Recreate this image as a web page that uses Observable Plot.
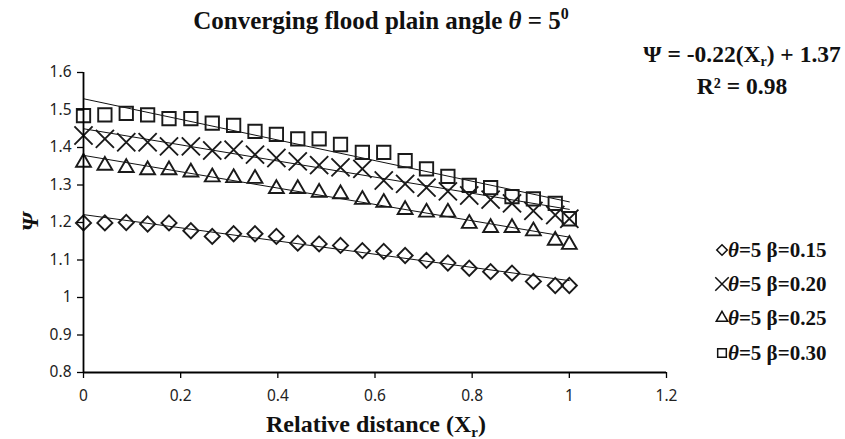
<!DOCTYPE html>
<html><head><meta charset="utf-8">
<script src="https://cdn.jsdelivr.net/npm/d3@7"></script>
<script src="https://cdn.jsdelivr.net/npm/@observablehq/plot@0.6"></script>
<style>body{margin:0;background:#fff}#chart{width:845px;height:439px}</style>
</head><body><div id="chart"></div><script>
// Relative distance (Xr)
const xr = [0, 0.044, 0.088, 0.132, 0.176, 0.221, 0.265, 0.309, 0.353, 0.397, 0.441, 0.485,
            0.529, 0.574, 0.618, 0.662, 0.706, 0.75, 0.794, 0.838, 0.882, 0.926, 0.971, 1.0];
// Psi values per series
const psiB015 = [1.199, 1.199, 1.200, 1.196, 1.199, 1.178, 1.163, 1.170, 1.170, 1.163, 1.145, 1.143,
                 1.139, 1.125, 1.123, 1.112, 1.099, 1.092, 1.078, 1.069, 1.065, 1.043, 1.032, 1.032];
const psiB020 = [1.432, 1.423, 1.414, 1.414, 1.403, 1.403, 1.392, 1.394, 1.381, 1.372, 1.363, 1.353,
                 1.347, 1.343, 1.312, 1.303, 1.293, 1.283, 1.272, 1.261, 1.251, 1.231, 1.220, 1.210];
const psiB025 = [1.360, 1.352, 1.346, 1.340, 1.340, 1.334, 1.321, 1.319, 1.317, 1.290, 1.290, 1.280,
                 1.276, 1.261, 1.253, 1.234, 1.227, 1.227, 1.197, 1.186, 1.186, 1.177, 1.152, 1.141];
const psiB030 = [1.485, 1.487, 1.491, 1.487, 1.477, 1.477, 1.465, 1.459, 1.443, 1.435, 1.423, 1.423,
                 1.408, 1.387, 1.387, 1.365, 1.343, 1.323, 1.299, 1.293, 1.269, 1.263, 1.251, 1.210];
const seriesValues = [psiB015, psiB020, psiB025, psiB030];
const seriesBeta = ["0.15", "0.20", "0.25", "0.30"];
const seriesSymbols = ["diamond2", "times", "triangle2", "square2"];
// Trend lines (value at Xr = 0 and Xr = 1)
const trendX = [0, 1];
const trendStart = [1.221, 1.450, 1.379, 1.530];
const trendEnd = [1.045, 1.235, 1.161, 1.255];
// Axes
const xTicks = [0, 0.2, 0.4, 0.6, 0.8, 1, 1.2];
const xTickLabels = ["0", "0.2", "0.4", "0.6", "0.8", "1", "1.2"];
const yTicks = [0.8, 0.9, 1, 1.1, 1.2, 1.3, 1.4, 1.5, 1.6];
const yTickLabels = ["0.8", "0.9", "1", "1.1", "1.2", "1.3", "1.4", "1.5", "1.6"];

const points = seriesValues.map((vals, s) => vals.map((v, i) => ({x: xr[i], y: v, s})));
const trends = trendStart.map((v0, s) => [
  {x: trendX[0], y: v0, s}, {x: trendX[1], y: trendEnd[s], s}
]).flat();

const symR = {diamond2: 6.8, times: 8.3, triangle2: 7.1, square2: 8.5};

const plot = Plot.plot({
  width: 845, height: 439,
  marginLeft: 83, marginRight: 179, marginTop: 72, marginBottom: 67,
  style: {fontFamily: "'Noto Sans', sans-serif", fontSize: "15.5px", color: "#222", background: "#fff"},
  x: {domain: [0, 1.2], label: null},
  y: {domain: [0.8, 1.6], label: null},
  marks: [
    Plot.line(trends, {x: "x", y: "y", z: "s", stroke: "#111", strokeWidth: 1}),
    ...points.map((pts, s) => Plot.dot(pts, {
      x: "x", y: "y", symbol: seriesSymbols[s], r: symR[seriesSymbols[s]],
      stroke: "#1a1a1a", strokeWidth: 1.9, fill: "none"
    })),
    Plot.axisX({ticks: xTicks, tickFormat: (d) => xTickLabels[xTicks.indexOf(d)], tickSize: 6, tickPadding: 11, label: null, stroke: "#000", strokeWidth: 1.3}),
    Plot.axisY({ticks: yTicks, tickFormat: (d) => yTickLabels[yTicks.findIndex(t => Math.abs(t - d) < 1e-9)], tickSize: 6, tickPadding: 6, label: null, stroke: "#000", strokeWidth: 1.3}),
    Plot.ruleY([0.8], {stroke: "#000", strokeWidth: 1.8}),
    Plot.ruleX([0], {stroke: "#000", strokeWidth: 1.8})
  ]
});
document.getElementById("chart").appendChild(plot);

const svg = d3.select(plot);
const serif = "'Liberation Serif', 'Times New Roman', serif";
// Title
const t = svg.append("text").attr("x", 381).attr("y", 29).attr("text-anchor", "middle")
  .attr("font-family", serif).attr("font-weight", "bold").attr("font-size", 25).attr("fill", "#111");
t.append("tspan").text("Converging flood plain angle ");
t.append("tspan").attr("font-style", "italic").text("θ");
t.append("tspan").text(" = 5");
t.append("tspan").attr("font-size", 16).attr("dy", -10).text("0");
// Equation
const e1 = svg.append("text").attr("x", 742).attr("y", 62).attr("text-anchor", "middle")
  .attr("font-family", serif).attr("font-weight", "bold").attr("font-size", 23.5).attr("fill", "#111");
e1.append("tspan").text("Ψ = -0.22(X");
e1.append("tspan").attr("font-size", 14).attr("dy", 4).text("r");
e1.append("tspan").attr("dy", -4).text(") + 1.37");
svg.append("text").attr("x", 742).attr("y", 94).attr("text-anchor", "middle")
  .attr("font-family", serif).attr("font-weight", "bold").attr("font-size", 23.5).attr("fill", "#111")
  .text("R² = 0.98");
// Y label
svg.append("text").attr("transform", "translate(38,222) rotate(-90)").attr("text-anchor", "middle")
  .attr("font-family", serif).attr("font-weight", "bold").attr("font-style", "italic").attr("font-size", 24).attr("fill", "#111")
  .text("Ψ");
// X label
const xl = svg.append("text").attr("x", 376).attr("y", 432).attr("text-anchor", "middle")
  .attr("font-family", serif).attr("font-weight", "bold").attr("font-size", 24).attr("fill", "#111");
xl.append("tspan").text("Relative distance (X");
xl.append("tspan").attr("font-size", 15).attr("dy", 5).text("r");
xl.append("tspan").attr("dy", -5).text(")");
// Legend
const d3Sym = {diamond2: d3.symbolDiamond2, times: d3.symbolTimes, triangle2: d3.symbolTriangle2, square2: d3.symbolSquare2};
const legY = [250, 284, 318, 353];
seriesSymbols.forEach((sym, s) => {
  const g = svg.append("g").attr("transform", `translate(0,${legY[s]})`);
  g.append("path").attr("transform", "translate(722,0)")
    .attr("d", d3.symbol(d3Sym[sym], sym === "times" ? 120 : sym === "diamond2" ? 70 : 95)())
    .attr("fill", "none").attr("stroke", "#111").attr("stroke-width", 1.5);
  const tx = g.append("text").attr("x", 728).attr("y", 7).attr("text-anchor", "start")
    .attr("font-family", serif).attr("font-weight", "bold").attr("font-size", 21).attr("fill", "#111");
  tx.append("tspan").attr("font-style", "italic").text("θ");
  tx.append("tspan").text("=5 β=" + seriesBeta[s]);
});
</script></body></html>
